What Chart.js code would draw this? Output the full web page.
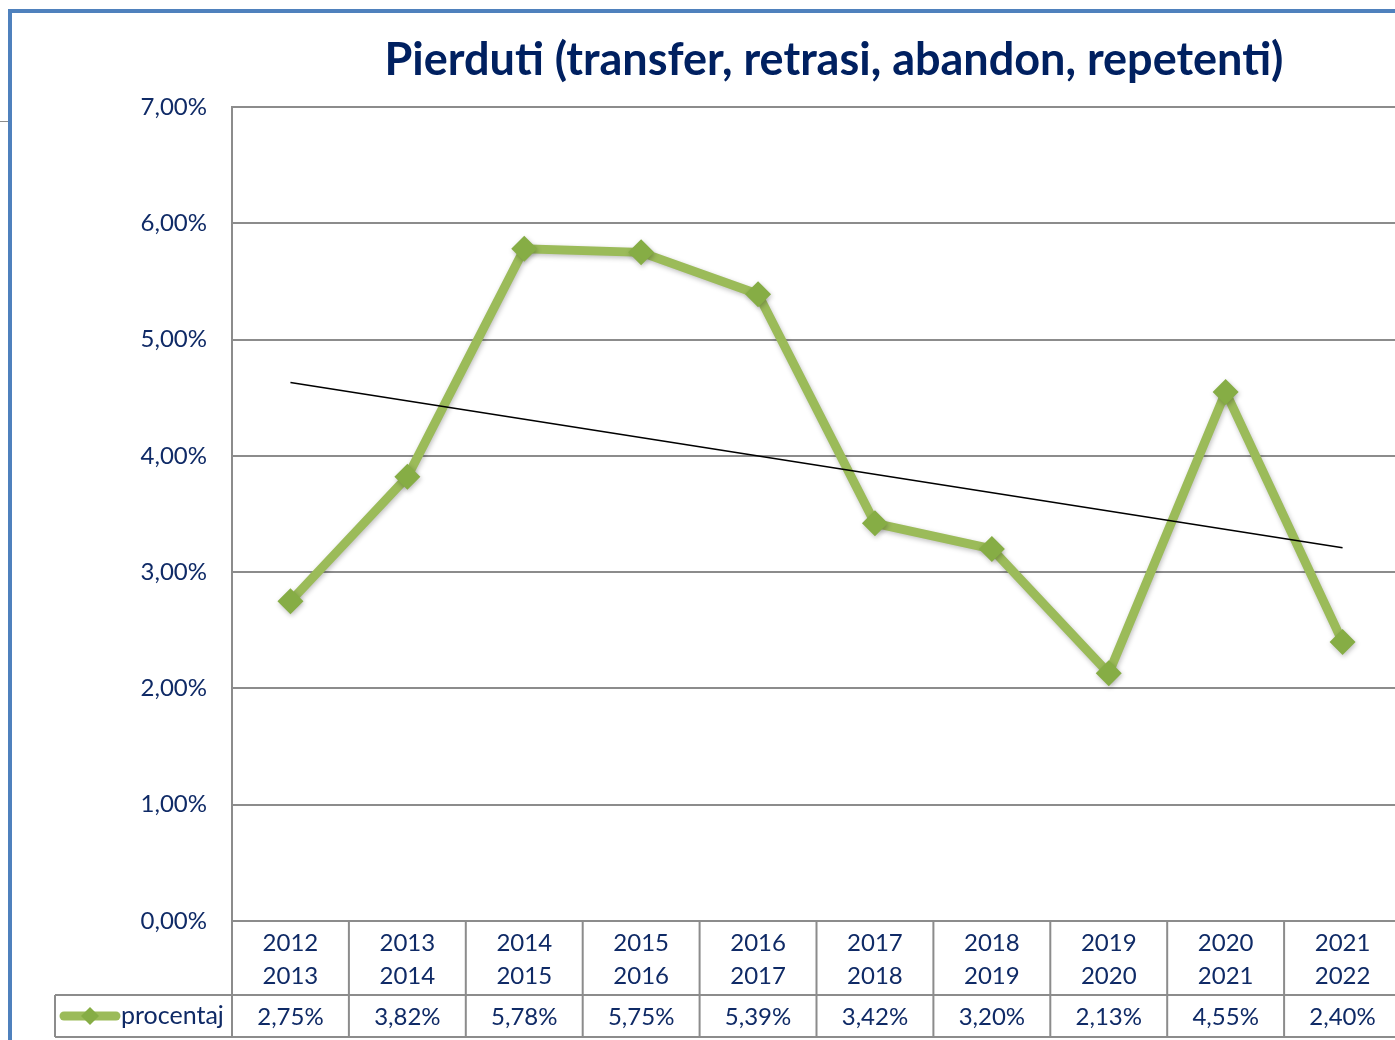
<!DOCTYPE html>
<html>
<head>
<meta charset="utf-8">
<script src="https://cdn.jsdelivr.net/npm/chart.js@4.4.0/dist/chart.umd.min.js"></script>
<style>
  html, body { margin: 0; padding: 0; background: #fff; overflow: hidden; }
  #wrap { position: relative; width: 1395px; height: 1040px; overflow: hidden; }
  #frame { position: absolute; left: 8px; top: 9px; width: 1400px; height: 1100px;
           border-left: 4px solid #4F81BD; border-top: 4px solid #4F81BD; }
  #stub { position: absolute; left: 0; top: 121px; width: 8px; height: 1px; background: #8c8c8c; }
  #box { position: absolute; left: 0; top: 0; width: 1414px; height: 1040px; }
</style>
</head>
<body>
<div id="wrap">
  <div id="frame"></div>
  <div id="stub"></div>
  <!-- the original plot runs a few pixels past the right edge, so the canvas is wider and clipped -->
  <div id="box"><canvas id="chart" width="1414" height="1040" style="width:1414px;height:1040px"></canvas></div>
</div>
<script>
// school years (two-line labels) and the lost-students percentage
const categories = [
    ['2012', '2013'], ['2013', '2014'], ['2014', '2015'], ['2015', '2016'], ['2016', '2017'],
    ['2017', '2018'], ['2018', '2019'], ['2019', '2020'], ['2020', '2021'], ['2021', '2022']
];
const procentaj = [2.75, 3.82, 5.78, 5.75, 5.39, 3.42, 3.20, 2.13, 4.55, 2.40];
// linear trendline ends (first and last year)
const trendLine = [4.63, 3.21];
const yTicks = [0, 1, 2, 3, 4, 5, 6, 7];

const NAVY = '#0F2A66';
const GRID = '#8C8C8C';
const GREEN = '#9BBB59';
const FONT = 'Lato';

const pct = v => v.toFixed(2).replace('.', ',') + '%';

const trendData = categories.map((c, i) =>
    i === 0 ? trendLine[0] : (i === categories.length - 1 ? trendLine[1] : null));

// title drawn over the plot (it is not centred on the canvas in the original)
const titlePlugin = {
    id: 'titleText',
    afterDraw(chart) {
        const ctx = chart.ctx;
        ctx.save();
        ctx.font = `bold 45px ${FONT}`;
        ctx.fillStyle = '#002060';
        ctx.textAlign = 'center';
        ctx.textBaseline = 'middle';
        ctx.fillText('Pierduti (transfer, retrasi, abandon, repetenti)', 834, 60);
        ctx.restore();
    }
};

// data table under the x axis
const tablePlugin = {
    id: 'dataTable',
    afterDraw(chart) {
        const ctx = chart.ctx;
        const xs = chart.scales.x;
        const area = chart.chartArea;
        const top = area.bottom;
        const mid = xs.bottom;
        const bot = chart.height - 3;
        const half = (xs.getPixelForTick(1) - xs.getPixelForTick(0)) / 2;
        const legendLeft = 55;

        ctx.save();
        ctx.strokeStyle = GRID;
        ctx.lineWidth = 2;
        ctx.beginPath();
        ctx.moveTo(legendLeft, mid); ctx.lineTo(area.right, mid);
        ctx.moveTo(legendLeft, bot); ctx.lineTo(area.right, bot);
        ctx.moveTo(legendLeft, mid); ctx.lineTo(legendLeft, bot);
        for (let i = 0; i <= categories.length; i++) {
            const x = xs.getPixelForTick(0) - half + i * half * 2;
            ctx.moveTo(x, top); ctx.lineTo(x, bot);
        }
        ctx.stroke();

        const rowY = (mid + bot) / 2;
        ctx.font = `24px ${FONT}`;
        ctx.fillStyle = NAVY;
        ctx.textAlign = 'center';
        ctx.textBaseline = 'middle';
        procentaj.forEach((v, i) => ctx.fillText(pct(v), xs.getPixelForTick(i), rowY + 1));

        // legend key
        ctx.strokeStyle = GREEN;
        ctx.lineWidth = 9;
        ctx.lineCap = 'round';
        ctx.beginPath();
        ctx.moveTo(64, rowY); ctx.lineTo(116, rowY);
        ctx.stroke();
        ctx.fillStyle = '#86AD45';
        ctx.beginPath();
        ctx.moveTo(90, rowY - 9); ctx.lineTo(99, rowY); ctx.lineTo(90, rowY + 9); ctx.lineTo(81, rowY);
        ctx.closePath();
        ctx.fill();
        ctx.fillStyle = NAVY;
        ctx.textAlign = 'left';
        ctx.font = `25px ${FONT}`;
        ctx.fillText('procentaj', 121, rowY);
        ctx.restore();
    }
};

// soft shadow under the diamonds
const shadowPlugin = {
    id: 'markerShadow',
    beforeDatasetDraw(chart, args) {
        if (args.index !== 1) return;
        const ctx = chart.ctx;
        ctx.save();
        ctx.shadowColor = 'rgba(0,0,0,0.25)';
        ctx.shadowBlur = 5;
        ctx.shadowOffsetX = 1;
        ctx.shadowOffsetY = 2;
    },
    afterDatasetDraw(chart, args) {
        if (args.index !== 1) return;
        chart.ctx.restore();
    }
};

const ctx = document.getElementById('chart').getContext('2d');
new Chart(ctx, {
    type: 'line',
    data: {
        labels: categories,
        datasets: [{
            label: 'trend',
            data: trendData,
            borderColor: '#000000',
            borderWidth: 1.5,
            pointRadius: 0,
            spanGaps: true,
            tension: 0
        }, {
            label: 'procentaj',
            data: procentaj,
            borderColor: GREEN,
            borderWidth: 9,
            pointStyle: 'rectRot',
            pointRadius: 13,
            pointBackgroundColor: '#86AD45',
            pointBorderWidth: 0,
            tension: 0
        }]
    },
    options: {
        responsive: false,
        animation: false,
        layout: { padding: { top: 107, right: 6, bottom: 45, left: 0 } },
        plugins: {
            legend: { display: false },
            tooltip: { enabled: false },
            title: { display: false }
        },
        scales: {
            x: {
                offset: true,
                grid: { display: false },
                border: { display: false },
                ticks: {
                    font: { family: FONT, size: 24, lineHeight: 1.38 },
                    color: NAVY,
                    padding: -2,
                    maxRotation: 0
                },
                afterFit: s => { s.height = 74; }
            },
            y: {
                min: 0,
                max: 7,
                afterBuildTicks: s => { s.ticks = yTicks.map(v => ({ value: v })); },
                ticks: {
                    callback: v => pct(v),
                    font: { family: FONT, size: 24 },
                    color: NAVY,
                    padding: 25
                },
                grid: { color: GRID, lineWidth: 2, drawTicks: false },
                border: { display: true, color: GRID, width: 2 },
                afterFit: s => { s.width = 232; }
            }
        }
    },
    plugins: [shadowPlugin, titlePlugin, tablePlugin]
});
</script>
</body>
</html>
